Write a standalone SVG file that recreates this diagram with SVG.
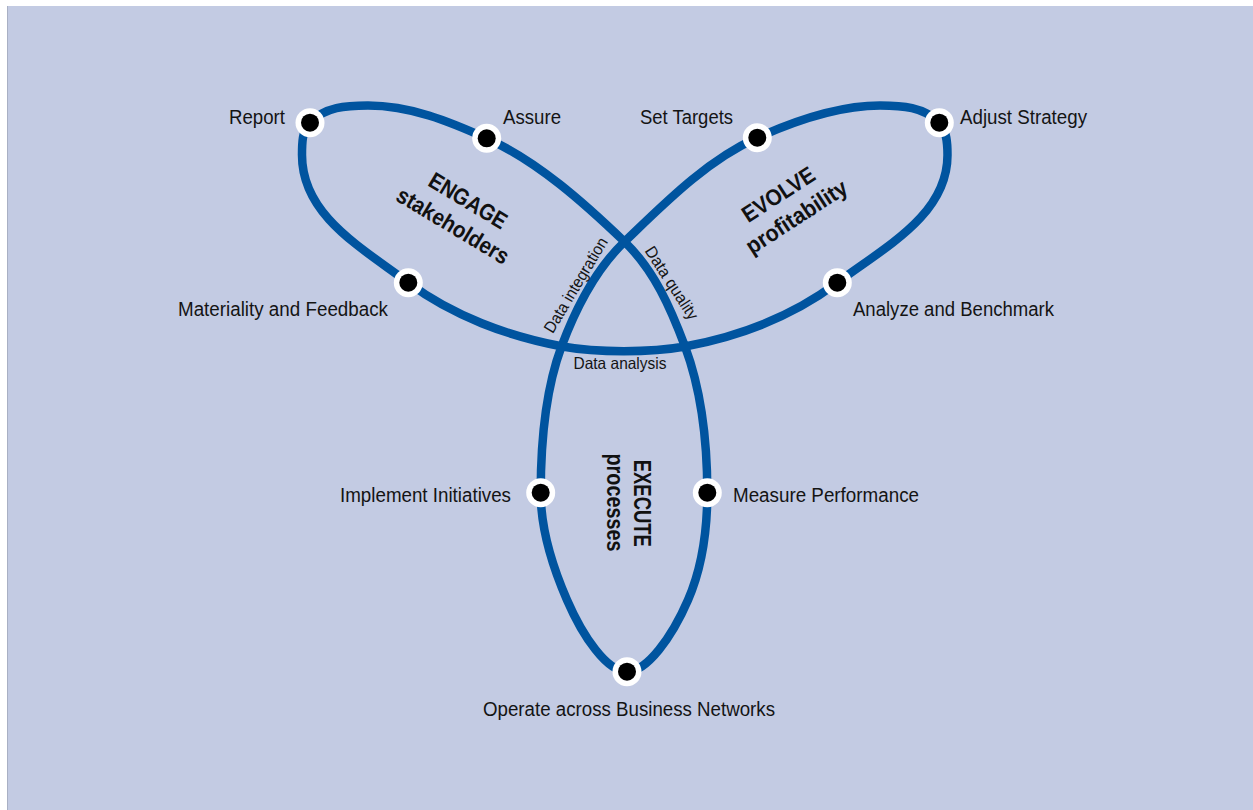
<svg xmlns="http://www.w3.org/2000/svg" width="1253" height="810" viewBox="0 0 1253 810">
<style>
.lbl{font-family:"Liberation Sans",Arial,sans-serif;font-size:20px;fill:#141414}
.small{font-family:"Liberation Sans",Arial,sans-serif;font-size:16.5px;fill:#141414}
.head{font-family:"Liberation Sans",Arial,sans-serif;font-size:23px;font-weight:bold;fill:#111}
.ring{fill:#fff}
.dot{fill:#000}
.curve{fill:none;stroke:#00549f;stroke-width:8.5;stroke-linejoin:round}
</style>
<defs>
<g id="node-dot"><circle class="ring" r="14.5"/><circle class="dot" r="9"/></g>
</defs>
<rect x="7" y="6" width="1246" height="804" fill="#c3cbe3"/>
<line x1="7.5" y1="6" x2="7.5" y2="810" stroke="#a9b0c4" stroke-width="1"/>

<g id="connectors">
<path class="curve" d="M540.7,492.7 C540.7,443.7 544.4,392.4 561.5,346.5 C575.9,308 595,270 624.5,241.7 C664.8,203.1 706.3,160.7 757.3,137.7 C795.5,120.5 838,105.5 880,105.5 C902,105.5 923.7,106.9 939.3,122.7 C947,130.5 947.5,144 947.5,155 C947.5,215 885.3,246.7 837.3,282.7 C793.3,315.7 739,336.5 685,346.5 C650.7,352.8 596.8,352.8 562.5,346.5 C508.5,336.5 452.3,315.7 408.3,282.7 C360.3,246.7 302,215 302,155 C302,144 302,130.5 309.7,122.7 C325.3,106.9 346,105.5 368,105.5 C410,105.5 448.5,121.1 486.7,138.3 C537.7,161.3 584.2,203.1 624.5,241.7 C654,270 670.6,308 685,346.5 C702.2,392.6 707.3,443.7 707.3,492.7 C707.3,528.7 702.4,566.9 688,600 C672,637 647,671.7 627,671.7 C607,671.7 583,637 567,600 C552.6,566.9 540.7,528.7 540.7,492.7 Z"/>
<text class="small" transform="translate(580.5,288) rotate(-59)" text-anchor="middle" textLength="108" lengthAdjust="spacingAndGlyphs">Data integration</text>
<text class="small" transform="translate(667,286) rotate(57)" text-anchor="middle" textLength="84" lengthAdjust="spacingAndGlyphs">Data quality</text>
<text class="small" x="620" y="368.5" text-anchor="middle" textLength="93" lengthAdjust="spacingAndGlyphs">Data analysis</text>
</g>

<g id="engage">
<text class="head" transform="translate(464,207.4) rotate(31)" text-anchor="middle" textLength="87" lengthAdjust="spacingAndGlyphs">ENGAGE</text>
<text class="head" transform="translate(449,232.4) rotate(31)" text-anchor="middle" textLength="127" lengthAdjust="spacingAndGlyphs">stakeholders</text>
</g>
<g id="evolve">
<text class="head" transform="translate(782.7,201) rotate(-33)" text-anchor="middle" textLength="82" lengthAdjust="spacingAndGlyphs">EVOLVE</text>
<text class="head" transform="translate(800.7,223.4) rotate(-33)" text-anchor="middle" textLength="116" lengthAdjust="spacingAndGlyphs">profitability</text>
</g>
<g id="execute">
<text class="head" transform="translate(634,503.3) rotate(90)" text-anchor="middle" textLength="87" lengthAdjust="spacingAndGlyphs">EXECUTE</text>
<text class="head" transform="translate(607,502.5) rotate(90)" text-anchor="middle" textLength="98" lengthAdjust="spacingAndGlyphs">processes</text>
</g>

<g id="report"><use href="#node-dot" x="310" y="122.7"/><text class="lbl" x="285" y="123.5" text-anchor="end" textLength="56" lengthAdjust="spacingAndGlyphs">Report</text></g>
<g id="assure"><use href="#node-dot" x="486.7" y="138.3"/><text class="lbl" x="503" y="123.5" textLength="58" lengthAdjust="spacingAndGlyphs">Assure</text></g>
<g id="set-targets"><use href="#node-dot" x="757.3" y="137.7"/><text class="lbl" x="733" y="123.5" text-anchor="end" textLength="93" lengthAdjust="spacingAndGlyphs">Set Targets</text></g>
<g id="adjust-strategy"><use href="#node-dot" x="939.3" y="122.7"/><text class="lbl" x="960" y="123.5" textLength="127" lengthAdjust="spacingAndGlyphs">Adjust Strategy</text></g>
<g id="materiality"><use href="#node-dot" x="408.3" y="282.7"/><text class="lbl" x="388" y="315.5" text-anchor="end" textLength="210" lengthAdjust="spacingAndGlyphs">Materiality and Feedback</text></g>
<g id="analyze"><use href="#node-dot" x="837.3" y="282.7"/><text class="lbl" x="853" y="315.5" textLength="201" lengthAdjust="spacingAndGlyphs">Analyze and Benchmark</text></g>
<g id="implement"><use href="#node-dot" x="540.7" y="492.7"/><text class="lbl" x="511" y="501.5" text-anchor="end" textLength="171" lengthAdjust="spacingAndGlyphs">Implement Initiatives</text></g>
<g id="measure"><use href="#node-dot" x="707.3" y="492.7"/><text class="lbl" x="733" y="501.5" textLength="186" lengthAdjust="spacingAndGlyphs">Measure Performance</text></g>
<g id="operate"><use href="#node-dot" x="627" y="671.7"/><text class="lbl" x="629" y="715.5" text-anchor="middle" textLength="292" lengthAdjust="spacingAndGlyphs">Operate across Business Networks</text></g>
</svg>
